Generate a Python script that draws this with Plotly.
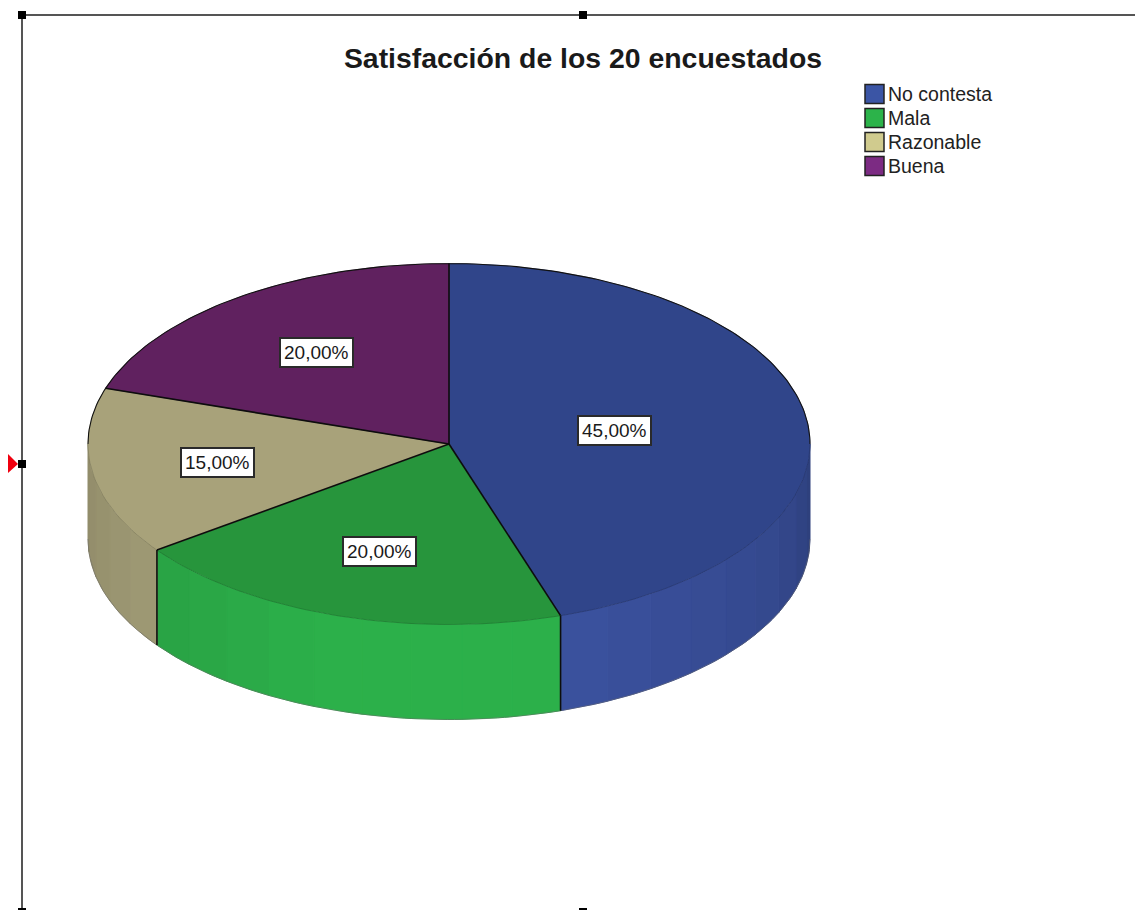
import numpy as np
import plotly.graph_objects as go

# Survey results
categories = ["No contesta", "Mala", "Razonable", "Buena"]
shares = [45.0, 20.0, 15.0, 20.0]

# Slice colours
top_colors = ["#30458a", "#27953c", "#a8a27a", "#60215f"]
side_colors = ["#3b52a0", "#2cb04a", "#aca67e", "#60215f"]
legend_colors = ["#3b55a5", "#2cb34a", "#d0cb8e", "#7c2b83"]
label_radius = [0.465, 0.625, 0.648, 0.626]

WIDTH, HEIGHT = 1135, 910
CX, CY, RX, RY, DEPTH = 449.0, 444.0, 361.0, 180.5, 95.0
STRIP = 8.0


def rim(deg, drop=0.0):
    """Project angles (degrees clockwise from 12 o'clock) onto the tilted disc."""
    a = np.radians(deg)
    return CX + RX * np.sin(a), CY - RY * np.cos(a) + drop


def shade(hex_color, f):
    r, g, b = (int(hex_color[i:i + 2], 16) for i in (1, 3, 5))
    return f"rgb({r * f:.0f},{g * f:.0f},{b * f:.0f})"


def side_factor(deg):
    return float(np.interp(deg, [90, 115, 165, 200, 235, 270],
                           [0.76, 0.88, 1.0, 1.0, 0.92, 0.84]))


bounds = np.concatenate([[0.0], np.cumsum(shares) / np.sum(shares) * 360.0])
fig = go.Figure()


def polygon(x, y, color, line_color=None, width=1.0):
    fig.add_trace(go.Scatter(x=x, y=y, mode="lines", fill="toself", fillcolor=color,
                             line=dict(color=line_color or color, width=width),
                             hoverinfo="skip", showlegend=False))


def stroke(x, y, color, width):
    fig.add_trace(go.Scatter(x=x, y=y, mode="lines", line=dict(color=color, width=width),
                             hoverinfo="skip", showlegend=False))


# Wall of the disc: banded vertical strips on the front half only
for i, color in enumerate(side_colors):
    lo, hi = max(bounds[i], 90.0), min(bounds[i + 1], 270.0)
    if lo >= hi:
        continue
    edges = np.append(np.arange(lo, hi, STRIP), hi)
    for a0, a1 in zip(edges[:-1], edges[1:]):
        t = np.linspace(a0, a1, 8)
        xt, yt = rim(t)
        xb, yb = rim(t[::-1], DEPTH)
        # the stroke overlaps the next strip a little so no seams show between them
        c = shade(color, side_factor((a0 + a1) / 2))
        polygon(np.r_[xt, xb, xt[0]], np.r_[yt, yb, yt[0]], c)

# Soft edge along the bottom of the wall
t = np.linspace(90, 270, 120)
stroke(*rim(t, DEPTH), "#666666", 0.5)

# Top face wedges
for i, color in enumerate(top_colors):
    t = np.linspace(bounds[i], bounds[i + 1], 90)
    xt, yt = rim(t)
    polygon(np.r_[CX, xt, CX], np.r_[CY, yt, CY], color, width=0.6)

# Faint crease where the top face meets the wall
t = np.linspace(90, 270, 120)
stroke(*rim(t), "rgba(0,0,0,0.25)", 0.6)

# Outlines: back rim, slice radii and wall seams
t = np.linspace(-90, 90, 160)
stroke(*rim(t), "#111111", 1.1)
for b in bounds[:-1]:
    xe, ye = rim(np.array([b]))
    stroke([CX, xe[0]], [CY, ye[0]], "#0d0d0d", 1.6)
    if 90 < b < 270:
        _, yd = rim(np.array([b]), DEPTH)
        stroke([xe[0], xe[0]], [ye[0], yd[0]], "#0d0d0d", 1.6)

annotations = []

# Percentage labels on the slices
for i, value in enumerate(shares):
    mid = (bounds[i] + bounds[i + 1]) / 2
    a = np.radians(mid)
    annotations.append(dict(
        x=CX + label_radius[i] * RX * np.sin(a),
        y=CY - label_radius[i] * RY * np.cos(a),
        text=f"{value:.2f}".replace(".", ",") + "%",
        showarrow=False, bgcolor="white", bordercolor="#2a2a2a", borderwidth=2,
        borderpad=3, font=dict(family="Liberation Sans", size=19, color="#1a1a1a"),
    ))

# Legend block
shapes = []
for i, name in enumerate(categories):
    yc = 94 + 24 * i
    shapes.append(dict(type="rect", x0=865, x1=884, y0=yc - 9.5, y1=yc + 9.5,
                       fillcolor=legend_colors[i], line=dict(color="#222222", width=1.5)))
    annotations.append(dict(x=886, y=yc, text=name, showarrow=False, xanchor="left",
                            font=dict(family="Liberation Sans", size=19.5, color="#222222")))

# Selection frame around the chart object
frame = dict(color="#555555", width=2)
shapes.append(dict(type="line", x0=22, x1=WIDTH, y0=15, y1=15, line=frame))
shapes.append(dict(type="line", x0=22, x1=22, y0=15, y1=908, line=frame))
for hx, hy in [(22, 15), (583, 15), (22, 464), (22, 912), (583, 912)]:
    shapes.append(dict(type="rect", x0=hx - 4, x1=hx + 4, y0=hy - 4, y1=hy + 4,
                       fillcolor="black", line=dict(width=0)))
shapes.append(dict(type="path", path="M 8 454 L 18 464 L 8 473 Z",
                   fillcolor="#f0000f", line=dict(width=0)))

fig.update_layout(
    width=WIDTH, height=HEIGHT, margin=dict(l=0, r=0, t=0, b=0),
    paper_bgcolor="white", plot_bgcolor="white", showlegend=False,
    title=dict(text="<b>Satisfacción de los 20 encuestados</b>",
               x=583 / WIDTH, xanchor="center", y=1 - 58 / HEIGHT, yanchor="middle",
               font=dict(family="Liberation Sans", size=28.4, color="#1a1a1a")),
    xaxis=dict(range=[0, WIDTH], visible=False, fixedrange=True),
    yaxis=dict(range=[HEIGHT, 0], visible=False, fixedrange=True),
    annotations=annotations, shapes=shapes,
)

fig.write_html("out.html", config=dict(displayModeBar=False))
